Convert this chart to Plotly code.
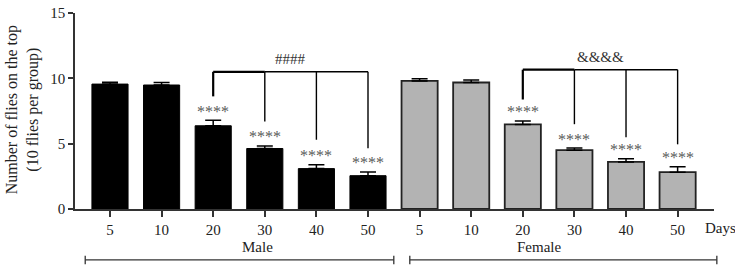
import plotly.graph_objects as go

# ---- data ----
days = ["5", "10", "20", "30", "40", "50"]
male_mean = [9.56, 9.49, 6.37, 4.63, 3.09, 2.55]
male_err = [0.14, 0.19, 0.42, 0.20, 0.29, 0.29]
female_mean = [9.80, 9.68, 6.47, 4.50, 3.60, 2.82]
female_err = [0.17, 0.20, 0.27, 0.16, 0.25, 0.42]
star_label = "****"
male_bracket_label = "####"
female_bracket_label = "&&&&"
male_bracket_top = 10.5
male_drop_ends = [8.62, 6.70, 5.30, 4.65]
female_bracket_top = 10.66
female_drop_ends = [8.38, 6.49, 5.49, 4.95]
groups = ["Male", "Female"]
group_spans = [(-0.48, 5.50), (5.81, 11.76)]
y_ticks = [0, 5, 10, 15]

FONT = "Liberation Serif"
male_x = list(range(6))
female_x = list(range(6, 12))
X_RANGE = [-0.678, 11.705]

def to_paper(xv):
    return (xv - X_RANGE[0]) / (X_RANGE[1] - X_RANGE[0])

fig = go.Figure()
fig.add_trace(go.Bar(
    x=male_x, y=male_mean, width=0.70,
    marker=dict(color="black", line=dict(color="black", width=1)),
    error_y=dict(type="data", symmetric=False, array=male_err,
                 arrayminus=[0] * 6, color="black", thickness=1.5, width=8),
    showlegend=False))
fig.add_trace(go.Bar(
    x=female_x, y=female_mean, width=0.70,
    marker=dict(color="#b3b3b3", line=dict(color="#222222", width=1.8)),
    error_y=dict(type="data", symmetric=False, array=female_err,
                 arrayminus=[0] * 6, color="black", thickness=1.5, width=8),
    showlegend=False))

# significance brackets
def bracket(xs, top, ends, label):
    fig.add_trace(go.Scatter(x=[xs[0], xs[1]], y=[top, top], mode="lines",
                             line=dict(color="black", width=2.2), showlegend=False, hoverinfo="skip"))
    fig.add_trace(go.Scatter(x=[xs[1], xs[-1]], y=[top, top], mode="lines",
                             line=dict(color="black", width=1.4), showlegend=False, hoverinfo="skip"))
    for i, (xv, e) in enumerate(zip(xs, ends)):
        fig.add_trace(go.Scatter(x=[xv, xv], y=[top, e], mode="lines",
                                 line=dict(color="black", width=2.2 if i == 0 else 1.4),
                                 showlegend=False, hoverinfo="skip"))
    fig.add_annotation(x=(xs[0] + xs[-1]) / 2, y=top, text=label, showarrow=False,
                       yanchor="middle", yshift=13, font=dict(family=FONT, size=15, color="#333"))

bracket(male_x[2:], male_bracket_top, male_drop_ends, male_bracket_label)
bracket(female_x[2:], female_bracket_top, female_drop_ends, female_bracket_label)

# stars
for xs, m, e in [(male_x, male_mean, male_err), (female_x, female_mean, female_err)]:
    for i in range(2, 6):
        fig.add_annotation(x=xs[i], y=m[i] + e[i], text=star_label, showarrow=False,
                           yanchor="middle", yshift=9,
                           font=dict(family=FONT, size=16, color="#5a5a5a"))

# group lines and labels
for g, (a, b) in zip(groups, group_spans):
    pa, pb = to_paper(a), to_paper(b)
    fig.add_shape(type="line", xref="paper", yref="paper", x0=pa, x1=pb, y0=-0.26, y1=-0.26,
                  line=dict(color="#333", width=1.3))
    for pv in (pa, pb):
        fig.add_shape(type="line", xref="paper", yref="paper", x0=pv, x1=pv, y0=-0.238, y1=-0.282,
                      line=dict(color="#333", width=1.3))
    fig.add_annotation(x=(pa + pb) / 2, xref="paper", y=-0.195, yref="paper", text=g,
                       showarrow=False, yanchor="middle",
                       font=dict(family=FONT, size=15, color="#222"))

fig.add_annotation(x=0.983, xref="paper", y=-0.095, yref="paper", text="Days",
                   showarrow=False, xanchor="left", yanchor="middle",
                   font=dict(family=FONT, size=15, color="#222"))

fig.add_annotation(x=-0.082, xref="paper", y=7.6, yref="y",
                   text="Number of flies on the top<br>(10 flies per group)",
                   textangle=-90, showarrow=False, xanchor="center", yanchor="middle",
                   font=dict(family=FONT, size=16, color="#222"))

fig.update_layout(
    width=735, height=268,
    margin=dict(l=75, r=21, t=5, b=59),
    paper_bgcolor="white", plot_bgcolor="white",
    font=dict(family=FONT, size=15, color="#222"),
    xaxis=dict(range=X_RANGE, tickmode="array", tickvals=male_x + female_x,
               ticktext=days + days, ticks="outside", ticklen=6, tickwidth=1.5,
               tickcolor="#333", showline=True, linecolor="#333", linewidth=1.5,
               showgrid=False, zeroline=False),
    yaxis=dict(range=[0, 15], tickvals=y_ticks, ticks="outside", ticklen=5, tickwidth=1.5,
               tickcolor="#333", showline=True, linecolor="#333", linewidth=1.5,
               showgrid=False, zeroline=False, ticklabeloverflow="allow"),
)

fig.write_html("out.html", config={"displayModeBar": False},
               post_script="document.body.style.margin='0';document.body.style.padding='0';")
